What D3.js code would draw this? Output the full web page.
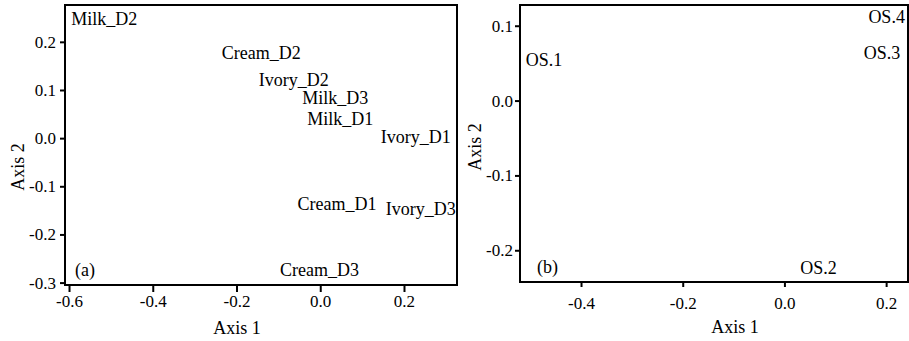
<!DOCTYPE html>
<html>
<head>
<meta charset="utf-8">
<script src="https://cdn.jsdelivr.net/npm/d3@7"></script>
<style>
  body { margin: 0; background: #fff; }
</style>
</head>
<body>
<script>
// panel (a) - colour / day scores
const labelsA = ["Milk_D2", "Cream_D2", "Ivory_D2", "Milk_D3", "Milk_D1", "Ivory_D1", "Cream_D1", "Ivory_D3", "Cream_D3"];
const axis1A = [-0.516, -0.141, -0.063, 0.036, 0.048, 0.228, 0.040, 0.240, -0.002];
const axis2A = [0.247, 0.177, 0.121, 0.084, 0.040, 0.002, -0.137, -0.148, -0.273];
const xTicksA = [-0.6, -0.4, -0.2, 0.0, 0.2];
const yTicksA = [-0.3, -0.2, -0.1, 0.0, 0.1, 0.2];

// panel (b) - OS scores
const labelsB = ["OS.1", "OS.2", "OS.3", "OS.4"];
const axis1B = [-0.473, 0.067, 0.192, 0.201];
const axis2B = [0.054, -0.224, 0.064, 0.111];
const xTicksB = [-0.4, -0.2, 0.0, 0.2];
const yTicksB = [-0.2, -0.1, 0.0, 0.1];

const FONT = "Liberation Serif";

const svg = d3.select("body").append("svg")
    .attr("width", 909)
    .attr("height", 341)
    .style("display", "block");

const fmt = d => d.toFixed(1);

function drawPanel(opt) {
    const x = d3.scaleLinear().domain(opt.xDomain).range([opt.left, opt.right]);
    const y = d3.scaleLinear().domain(opt.yDomain).range([opt.bottom, opt.top]);

    // x axis, ticks hanging under the frame
    const gx = svg.append("g")
        .attr("transform", `translate(0, ${opt.bottom})`)
        .call(d3.axisBottom(x).tickValues(opt.xTicks).tickFormat(fmt).tickSize(opt.xTickLen).tickPadding(opt.xPad).tickSizeOuter(0));
    gx.select(".domain").remove();
    gx.attr("font-family", FONT).attr("font-size", 17);
    gx.selectAll("line").attr("stroke", "#000").attr("stroke-width", 2);
    gx.selectAll("text").attr("fill", "#000").attr("font-family", FONT).attr("font-size", 17);

    // y axis
    const gy = svg.append("g")
        .attr("transform", `translate(${opt.left}, 0)`)
        .call(d3.axisLeft(y).tickValues(opt.yTicks).tickFormat(fmt).tickSize(5).tickPadding(opt.yPad).tickSizeOuter(0));
    gy.select(".domain").remove();
    gy.attr("font-family", FONT).attr("font-size", 17);
    gy.selectAll("line").attr("stroke", "#000").attr("stroke-width", 2);
    gy.selectAll("text").attr("fill", "#000").attr("font-family", FONT).attr("font-size", 17);

    // frame
    svg.append("rect")
        .attr("x", opt.left)
        .attr("y", opt.top)
        .attr("width", opt.right - opt.left)
        .attr("height", opt.bottom - opt.top)
        .attr("fill", "none")
        .attr("stroke", "#000")
        .attr("stroke-width", 2);

    // point labels centred on their scores
    svg.append("g").selectAll("text")
        .data(opt.labels)
        .enter()
        .append("text")
        .attr("x", (d, i) => x(opt.xs[i]))
        .attr("y", (d, i) => y(opt.ys[i]) + 6)
        .attr("text-anchor", "middle")
        .attr("font-family", FONT)
        .attr("font-size", 18)
        .text(d => d);

    // panel tag
    svg.append("text")
        .attr("x", opt.tagX)
        .attr("y", opt.bottom - 9)
        .attr("font-family", FONT)
        .attr("font-size", 18)
        .text(opt.tag);

    // axis titles
    svg.append("text")
        .attr("x", opt.xTitleX)
        .attr("y", opt.xTitleY)
        .attr("text-anchor", "middle")
        .attr("font-family", FONT)
        .attr("font-size", 18)
        .text("Axis 1");
    svg.append("text")
        .attr("transform", `translate(${opt.yTitleX}, ${opt.yTitleY}) rotate(-90)`)
        .attr("text-anchor", "middle")
        .attr("font-family", FONT)
        .attr("font-size", 18)
        .text("Axis 2");
}

drawPanel({
    left: 65, right: 457, top: 5, bottom: 285,
    xDomain: [-0.6096, 0.3266], yDomain: [-0.305, 0.2765],
    xTicks: xTicksA, yTicks: yTicksA, xTickLen: 7, xPad: 3, yPad: 4,
    labels: labelsA, xs: axis1A, ys: axis2A,
    tag: "(a)", tagX: 75,
    xTitleX: 237, xTitleY: 334, yTitleX: 24, yTitleY: 167
});

drawPanel({
    left: 520, right: 908, top: 5, bottom: 282,
    xDomain: [-0.52, 0.243], yDomain: [-0.2424, 0.1277],
    xTicks: xTicksB, yTicks: yTicksB, xTickLen: 5, xPad: 10, yPad: 2,
    labels: labelsB, xs: axis1B, ys: axis2B,
    tag: "(b)", tagX: 537,
    xTitleX: 735, xTitleY: 333, yTitleX: 481, yTitleY: 147
});
</script>
</body>
</html>
